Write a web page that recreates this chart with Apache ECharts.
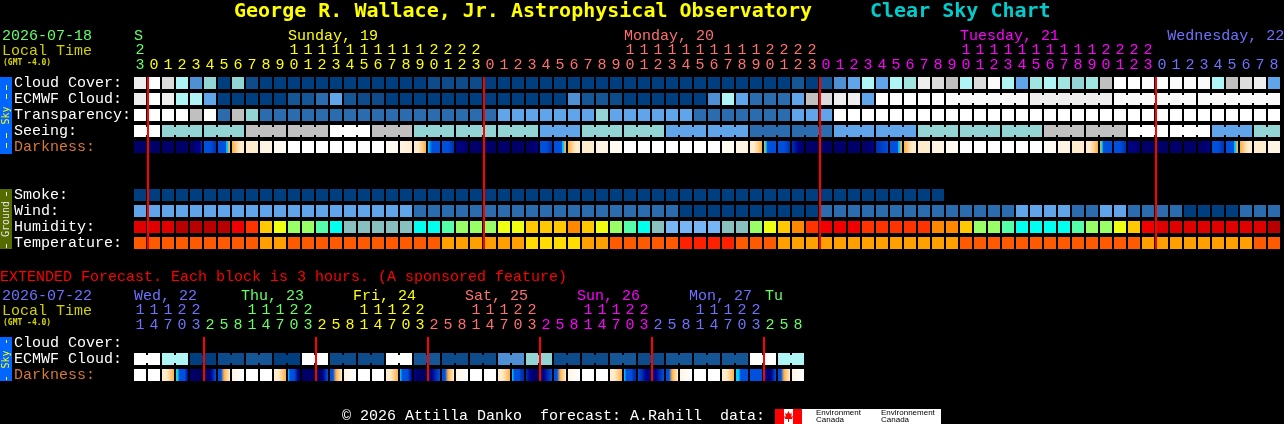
<!DOCTYPE html>
<html>
<head>
<meta charset="utf-8">
<style>html,body{margin:0;padding:0;background:#000}#c{width:1284px;height:424px}</style>
<script src="https://cdn.jsdelivr.net/npm/echarts@6/dist/echarts.min.js"></script>
</head>
<body>
<div id="c"></div>
<script>
// ---------- categories and tick labels ----------
const mainRows = ['Cloud Cover:','ECMWF Cloud:','Transparency:','Seeing:','Darkness:',' ','  ','Smoke:','Wind:','Humidity:','Temperature:'];
const extRows = ['Cloud Cover:','ECMWF Cloud:','Darkness:'];
const mainOnes = ['3','0','1','2','3','4','5','6','7','8','9','0','1','2','3','4','5','6','7','8','9','0','1','2','3',
 '0','1','2','3','4','5','6','7','8','9','0','1','2','3','4','5','6','7','8','9','0','1','2','3',
 '0','1','2','3','4','5','6','7','8','9','0','1','2','3','4','5','6','7','8','9','0','1','2','3',
 '0','1','2','3','4','5','6','7','8'];
const mainTens = ['2','','','','','','','','','','','1','1','1','1','1','1','1','1','1','1','2','2','2','2',
 '','','','','','','','','','','1','1','1','1','1','1','1','1','1','1','2','2','2','2',
 '','','','','','','','','','','1','1','1','1','1','1','1','1','1','1','2','2','2','2',
 '','','','','','','','',''];
const extOnes = ['1','4','7','0','3','2','5','8','1','4','7','0','3','2','5','8','1','4','7','0','3','2','5','8',
 '1','4','7','0','3','2','5','8','1','4','7','0','3','2','5','8','1','4','7','0','3','2','5','8'];
const extTens = ['1','1','1','2','2','','','','1','1','1','2','2','','','','1','1','1','2','2','','','',
 '1','1','1','2','2','','','','1','1','1','2','2','','','','1','1','1','2','2','','',''];
const mainDays = [['S',0,0],['Sunday, 19',11,1],['Monday, 20',35,2],['Tuesday, 21',59,3],['Wednesday, 22',73.8,4]];
const extDays = [['Wed, 22',0,4],['Thu, 23',7.64,0],['Fri, 24',15.64,1],['Sat, 25',23.64,2],['Sun, 26',31.64,3],['Mon, 27',39.64,4],['Tu',45.07,0]];
const mainMidnights = [1,25,49,73];
const extMidnights = [5,13,21,29,37,45];

// ---------- series values (forecast levels) ----------
const cloudCover = [
 11,13,10,8,4,6,0,6,1,0,
 0,0,0,0,0,0,0,0,0,0,
 0,1,1,1,1,0,0,0,0,0,
 0,0,0,0,0,0,0,0,0,0,
 0,0,0,0,0,0,0,2,0,2,
 4,5,8,5,8,7,11,10,9,8,
 10,12,8,5,7,8,7,6,7,9,
 13,13,12,13,12,12,12,8,9,10,
 11,5];
const ecmwfCloud = [
 11,13,11,8,8,5,0,0,0,0,
 0,2,2,3,5,2,1,1,0,0,
 0,0,0,0,0,0,0,0,0,0,
 0,4,2,2,1,0,0,0,0,0,
 0,4,8,5,3,3,3,5,9,10,
 11,11,5,13,13,13,13,13,12,12,
 12,12,12,12,11,11,11,11,11,11,
 12,12,12,12,12,12,12,12,12,12,
 12,12];
const ecmwfGroups = [[58,63],[64,69],[70,75],[76,81]];
const transparency = [
 13,13,13,13,9,13,3,9,6,3,
 3,3,3,3,3,3,3,3,3,3,
 3,3,3,3,3,3,5,5,5,5,
 5,5,5,6,5,5,5,5,5,5,
 3,3,3,3,3,3,3,5,5,5,
 13,13,13,13,13,13,13,13,13,13,
 13,13,13,13,13,13,13,13,13,13,
 13,13,13,13,13,13,13,13,13,13,
 13,13];
const seeing = [
 13,13,6,6,6,6,6,6,9,9,
 9,9,9,9,13,13,13,9,9,9,
 6,6,6,6,6,6,6,6,6,5,
 5,5,6,6,6,6,6,6,5,5,
 5,5,5,5,3,3,3,3,3,3,
 5,5,5,5,5,5,6,6,6,6,
 6,6,6,6,6,9,9,9,9,9,
 9,13,13,13,13,13,13,5,5,5,
 6,6];
const seeingGroups = [[0,1],[2,4],[5,7],[8,10],[11,13],[14,16],[17,19],[20,22],[23,25],[26,28],[29,31],[32,34],[35,37],[38,40],[41,43],[44,46],[47,49],[50,52],[53,55],[56,58],[59,61],[62,64],[65,67],[68,70],[71,73],[74,76],[77,79],[80,81]];
const smoke = [
 0,0,0,0,0,0,0,0,0,0,0,0,0,0,0,0,0,0,0,0,
 0,0,0,0,0,0,0,0,0,0,0,0,0,0,0,0,0,0,0,0,
 0,0,0,0,0,0,0,0,0,0,0,0,0,0,0,0,0,0];
const wind = [
 5,5,5,5,5,5,5,5,5,5,
 5,5,5,5,5,5,5,5,5,5,
 3,3,3,3,3,3,3,3,3,3,
 3,3,3,3,3,3,3,3,3,0,
 0,0,0,0,0,0,0,0,0,3,
 3,3,3,3,3,3,3,3,3,3,
 3,3,3,5,5,5,5,3,3,5,
 5,3,3,3,3,0,0,0,0,3,
 3,3];
const humidity = [
 1,1,1,0,0,0,0,2,3,5,
 6,7,7,8,9,10,10,10,10,10,
 9,9,8,7,7,7,6,6,5,5,
 5,4,5,6,7,8,9,10,11,11,
 11,11,10,10,7,6,5,4,3,2,
 2,2,3,3,3,3,3,4,4,5,
 7,7,8,9,9,9,9,8,7,7,
 6,5,2,1,1,1,1,1,1,1,
 1,0];
const temperature = [
 1,1,1,1,1,1,1,1,1,2,
 2,1,1,1,1,1,1,1,1,1,
 1,1,2,2,2,2,2,2,3,3,
 3,3,2,2,1,1,1,1,1,0,
 0,0,0,1,1,1,2,2,2,2,
 2,2,2,2,2,2,2,2,2,1,
 1,1,1,1,1,1,1,1,1,1,
 1,1,2,2,2,2,2,2,2,2,
 1,1];
// darkness: each block lists the sky-level stops running left to right across it
const N=[1], W=[12], DAWN=[4,4,4,4,4,4,4,4,5,5,7,7], TWI=[7,6,5,4,4,4,4,4,4,4,4,4], RISE=[7,8,9,9], SET=[9,9,8,7], BL=[4,4,3], UP=[1,1,2], DOWN=[2,1];
const darkness = [
 N,N,N,N,[1,1,1,2,2,3],BL,DAWN,RISE,[9],[10],
 [11],W,W,W,W,W,W,W,[11],[10,9],
 SET,[5,4,4,4],BL,DOWN,N,N,N,N,UP,BL,
 DAWN,RISE,[9],[10],[11],W,W,W,W,W,
 W,W,[11],[10],SET,TWI,BL,[3,2,1],N,N,
 N,N,UP,[3,4],DAWN,RISE,[9],[10],[11],W,
 W,W,W,W,W,[11],[10],[9],SET,TWI,
 BL,DOWN,N,N,N,N,UP,BL,DAWN,RISE,
 [9],[10]];
const extEcmwf = [
 13,13,8,8,0,0,1,1,2,2,
 0,0,13,13,1,1,1,1,13,13,
 2,2,1,1,1,1,4,4,6,6,
 1,1,1,1,2,2,1,1,2,2,
 2,2,2,2,13,13,8,8];
const extGroups = [[0,1],[2,3],[4,5],[6,7],[8,9],[10,11],[12,13],[14,15],[16,17],[18,19],[20,21],[22,23],[24,25],[26,27],[28,29],[30,31],[32,33],[34,35],[36,37],[38,39],[40,41],[42,43],[44,45],[46,47]];
const C1=[1,1,1,2,3,4], D1=[4,4,7,8,9], E1=[10,11,12];
const extDarkness = [
 W,W,SET,[6,5,4,4,4,4,3,2],[1,1,0],C1,D1,E1,
 W,W,SET,[5,4,4,4,3,2,1],N,C1,D1,E1,
 W,W,SET,[5,4,4,4,3,2],[2,1,1,1],[1,2,3,4],D1,E1,
 W,W,SET,[5,4,4,4,3,3],[3,2,1,1],[1,2,3,4],D1,E1,
 W,W,SET,[5,4,4,4,3,3],[4,3,2,2],[2,2,3,4],D1,E1,
 W,W,SET,[5,5,4,4,4,4],[4],[3,2,1,2,3,4],D1,E1];

// ---------- styles ----------
const skyPalette = ['#003f7f','#0d4b8b','#155796','#2a6cae','#4f8fd4','#60a5ea','#93d5d5','#a0e5e0','#b0f5f5','#c0c0c0','#dcdcdc','#eeeeee','#fafafa','#ffffff'];
const humPalette = ['#b80000','#e00000','#f00000','#ff3300','#ff8800','#ffc800','#eeff11','#99ff66','#55ffaa','#00ffee','#88c0c0','#77b5f5'];
const tempPalette = ['#ff2000','#ff5a00','#ffa000','#ffdd00'];
const darkPalette = ['#000050','#000068','#000090','#0030b0','#0050e0','#00d0ff','#40d090','#ffb040','#ffd090','#ffeccc','#fff4e4','#fffaf2','#ffffff'];
const dayColors = ['#66ff66','#ffff00','#ff7070','#ff00ff','#7070ff'];
const MONO = '"Liberation Mono"';
const BOLD = '"DejaVu Sans Mono"';
const mainTickColor = i => i < 1 ? dayColors[0] : i < 25 ? dayColors[1] : i < 49 ? dayColors[2] : i < 73 ? dayColors[3] : dayColors[4];
const extTickColor = i => i < 5 ? dayColors[4] : i < 13 ? dayColors[0] : i < 21 ? dayColors[1] : i < 29 ? dayColors[2] : i < 37 ? dayColors[3] : i < 45 ? dayColors[4] : dayColors[0];

const chart = echarts.init(document.getElementById('c'), null, {renderer:'canvas'});

const grad = (stops) => {
  if (stops.length === 1) return darkPalette[stops[0]];
  return new echarts.graphic.LinearGradient(0,0,1,0, stops.map((s,i)=>({offset:i/(stops.length-1), color:darkPalette[s]})));
};
function addRow(list, values, row, fillOf){
  values.forEach((v,col)=>list.push({value:[col,row], fill:fillOf(v)}));
}
function addNecks(list, groups, values, row, palette){
  groups.forEach(([a,b])=>{ for(let c=a;c<b;c++) list.push({value:[c,row], fill:palette[values[c]]}); });
}
const sky = v => skyPalette[v];
const mainCells = [];
addRow(mainCells, cloudCover, 0, sky);
addRow(mainCells, ecmwfCloud, 1, sky);
addRow(mainCells, transparency, 2, sky);
addRow(mainCells, seeing, 3, sky);
addRow(mainCells, darkness, 4, grad);
addRow(mainCells, smoke, 7, sky);
addRow(mainCells, wind, 8, sky);
addRow(mainCells, humidity, 9, v=>humPalette[v]);
addRow(mainCells, temperature, 10, v=>tempPalette[v]);
const extCells = [];
addRow(extCells, extEcmwf, 1, sky);
addRow(extCells, extDarkness, 2, grad);
const mainNecks = [];
addNecks(mainNecks, ecmwfGroups, ecmwfCloud, 1, skyPalette);
addNecks(mainNecks, seeingGroups, seeing, 3, skyPalette);
const extNecks = [];
addNecks(extNecks, extGroups, extEcmwf, 1, skyPalette);

const cellSeries = (cells, axis) => ({
  type:'custom', xAxisIndex:axis.x, yAxisIndex:axis.y, silent:true, clip:false, encode:{x:0,y:1},
  data:cells.map(c=>c.value),
  renderItem(params, api){
    const c = api.coord([api.value(0), api.value(1)]);
    const w = api.size([1,0])[0], h = api.size([0,1])[1];
    return {type:'rect', shape:{x:c[0]-w/2+1, y:c[1]-h/2+2, width:w-2, height:h-4}, style:{fill:cells[params.dataIndex].fill}};
  }
});
const neckSeries = (necks, axis) => ({
  type:'custom', xAxisIndex:axis.x, yAxisIndex:axis.y, silent:true, clip:false, encode:{x:0,y:1},
  data:necks.map(c=>c.value),
  renderItem(params, api){
    const c = api.coord([api.value(0), api.value(1)]);
    const w = api.size([1,0])[0];
    return {type:'rect', shape:{x:c[0]+w/2-1, y:c[1]-4, width:2, height:8}, style:{fill:necks[params.dataIndex].fill}};
  }
});
const midnightSeries = (cols, axis) => ({
  type:'custom', xAxisIndex:axis.x, yAxisIndex:axis.y, silent:true, clip:false, z:5, encode:{x:0},
  data:cols.map(c=>[c]),
  renderItem(params, api){
    const s = params.coordSys;
    const c = api.coord([api.value(0), 0]);
    const w = api.size([1,0])[0];
    return {type:'rect', shape:{x:c[0]-w/2, y:s.y+2, width:2, height:s.height-4}, style:{fill:'#ff0000'}};
  }
});
const xAxisOf = (grid, data, offset, colorOf) => ({
  type:'category', gridIndex:grid, data, position:'top', offset,
  axisLine:{show:false}, axisTick:{show:false}, splitLine:{show:false},
  axisLabel:{interval:0, margin:2, hideOverlap:false, fontFamily:MONO, fontSize:15, lineHeight:15,
    color:(v,i)=>colorOf(i)}
});
const yAxisOf = (grid, data) => ({
  type:'category', gridIndex:grid, data, inverse:true,
  axisLine:{show:false}, axisTick:{show:false}, splitLine:{show:false},
  axisLabel:{interval:0, margin:119, align:'left', fontFamily:MONO, fontSize:15, padding:[0,0,6,0],
    color:v=>v==='Darkness:'?'#d87838':'#ffffff'}
});
const txt = (text,x,y,fill,font) => ({type:'text', x, y, silent:true, z:10,
  style:{text, fill, font:font||('15px '+MONO), textAlign:'left', textVerticalAlign:'middle'}});
const vtxt = (text,x,y,fill) => ({type:'text', x, y, rotation:Math.PI/2, silent:true, z:11,
  style:{text, fill, font:'10px '+BOLD, textAlign:'center', textVerticalAlign:'middle'}});
const box = (x,y,w,h,fill,z) => ({type:'rect', silent:true, z:z||9, shape:{x,y,width:w,height:h}, style:{fill}});
const dash = (y,h,fill) => box(6,y,1,h,fill,11);
const colX = c => 133 + c*14 + 1;

const mainDayLabels = mainDays.map(d=>txt(d[0],colX(d[1]),36,dayColors[d[2]]));
const extDayLabels = extDays.map(d=>txt(d[0],colX(d[1]),296,dayColors[d[2]]));
const LOGO = '8px "Liberation Sans"';
const graphics = [
  txt('George R. Wallace, Jr. Astrophysical Observatory',234,12,'#ffff00','bold 20px '+BOLD),
  txt('Clear Sky Chart',870,12,'#00cccc','bold 20px '+BOLD),
  txt('2026-07-18',2,36,dayColors[0]),
  txt('Local Time',2,51,'#d0d000'),
  txt('(GMT -4.0)',3,63,'#d8d800','bold 8px '+BOLD),
  txt('EXTENDED Forecast. Each block is 3 hours. (A sponsored feature)',0,277,'#ff0000'),
  txt('2026-07-22',2,296,dayColors[4]),
  txt('Local Time',2,311,'#d0d000'),
  txt('(GMT -4.0)',3,323,'#d8d800','bold 8px '+BOLD),
  txt('\u00a9 2026 Attilla Danko  forecast: A.Rahill  data:',342,416,'#ffffff'),
  box(0,77,12,77,'#0066ff'), vtxt('Sky',6,115.5,'#ffff00'),
  dash(85,5,'#ffff00'), dash(94,5,'#ffff00'), dash(133,5,'#ffff00'), dash(143,5,'#ffff00'),
  box(0,189,12,60,'#556b00'), vtxt('Ground',6,219,'#e8e8e8'),
  dash(192,4,'#e8e8e8'), dash(244,4,'#e8e8e8'),
  box(0,337,12,44,'#0066ff'), vtxt('Sky',6,359.5,'#ffff00'),
  dash(340,3,'#ffff00'), dash(377,3,'#ffff00'),
  box(775,409,166,15,'#ffffff'),
  box(775,409,9,15,'#ff0000',10), box(793,409,9,15,'#ff0000',10),
  {type:'polygon', silent:true, z:10, shape:{points:[[788.5,411],[790,414],[792,413],[791,417],[793,416],[792,419],[789,419],[789,422],[788,422],[788,419],[785,419],[784,416],[786,417],[785,413],[787,414]]}, style:{fill:'#ff0000'}},
  txt('Environment',816,413,'#000000',LOGO), txt('Canada',816,420,'#000000',LOGO),
  txt('Environnement',881,413,'#000000',LOGO), txt('Canada',881,420,'#000000',LOGO),
  ...mainDayLabels, ...extDayLabels
];

chart.setOption({
  animation:false,
  backgroundColor:'#000000',
  tooltip:{show:false},
  grid:[
    {left:133, top:75, width:mainOnes.length*14, height:mainRows.length*16, containLabel:false, outerBoundsMode:'none'},
    {left:133, top:335, width:extOnes.length*14, height:extRows.length*16, containLabel:false, outerBoundsMode:'none'}
  ],
  xAxis:[
    xAxisOf(0, mainOnes, 0, mainTickColor),
    xAxisOf(0, mainTens, 15, mainTickColor),
    xAxisOf(1, extOnes, 0, extTickColor),
    xAxisOf(1, extTens, 15, extTickColor)
  ],
  yAxis:[yAxisOf(0, mainRows), yAxisOf(1, extRows)],
  series:[
    cellSeries(mainCells,{x:0,y:0}),
    neckSeries(mainNecks,{x:0,y:0}),
    midnightSeries(mainMidnights,{x:0,y:0}),
    cellSeries(extCells,{x:2,y:1}),
    neckSeries(extNecks,{x:2,y:1}),
    midnightSeries(extMidnights,{x:2,y:1})
  ],
  graphic:{elements:graphics}
});
</script>
</body>
</html>
